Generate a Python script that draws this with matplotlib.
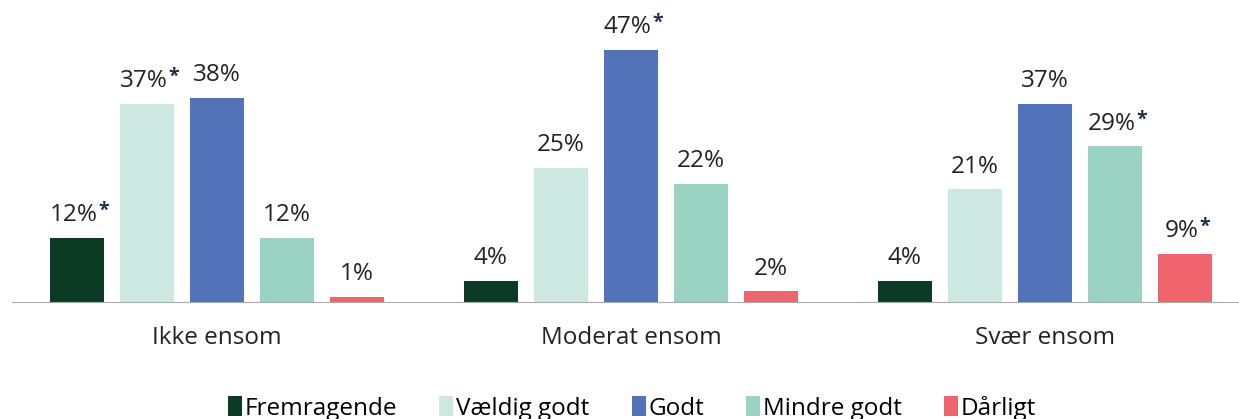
import matplotlib.pyplot as plt
import numpy as np

plt.rcParams['font.family'] = ['Open Sans', 'DejaVu Sans']

grupper = ['Ikke ensom', 'Moderat ensom', 'Svær ensom']
serier = ['Fremragende', 'Vældig godt', 'Godt', 'Mindre godt', 'Dårligt']
farver = ['#0b3b24', '#cde8e0', '#5272b9', '#9bd3c3', '#f0646e']

verdier = [
    [12, 4, 4],
    [37, 25, 21],
    [38, 47, 37],
    [12, 22, 29],
    [1, 2, 9],
]
# stjerne = signifikant forskel
stjerner = [
    [True, False, False],
    [True, False, False],
    [False, True, False],
    [False, False, True],
    [False, False, True],
]

fig = plt.figure(figsize=(12.39, 4.19), dpi=100)
ax = fig.add_axes([12 / 1239, 117 / 419, 1227 / 1239, 302 / 419])

x = np.arange(len(grupper))
bredde = 0.13
trin = 70 / 414
fs = 17.5

for i, navn in enumerate(serier):
    pos = x + (i - 2) * trin
    ax.bar(pos, verdier[i], width=bredde, color=farver[i], label=navn)
    for j, v in enumerate(verdier[i]):
        dx = -2.5 if stjerner[i][j] else 0
        t = ax.annotate(f'{v}%', (pos[j], v), xytext=(dx, 12), textcoords='offset points',
                        ha='center', va='baseline', fontsize=fs, color='#222222')
        if stjerner[i][j]:
            ax.annotate('*', xy=(1, 0), xycoords=t, xytext=(0.8, 4.5), textcoords='offset points',
                        ha='left', va='bottom', fontsize=14, fontweight='bold', color='#1c2f45')

ax.set_xlim(-0.495, 2.469)
ax.set_ylim(0, 56.3)
ax.set_xticks(x)
ax.set_xticklabels(grupper, fontsize=fs, color='#222222')
ax.tick_params(axis='x', length=0, pad=17.5)
ax.set_yticks([])
for s in ['top', 'right', 'left']:
    ax.spines[s].set_visible(False)
ax.spines['bottom'].set_color('#aaaaaa')

fig.legend(loc='lower center', bbox_to_anchor=(0.51, -0.056), ncol=5, frameon=False,
           fontsize=fs, handlelength=0.58, handleheight=0.9, handletextpad=0.1,
           columnspacing=1.75)

fig.savefig('out.png', dpi=100)
